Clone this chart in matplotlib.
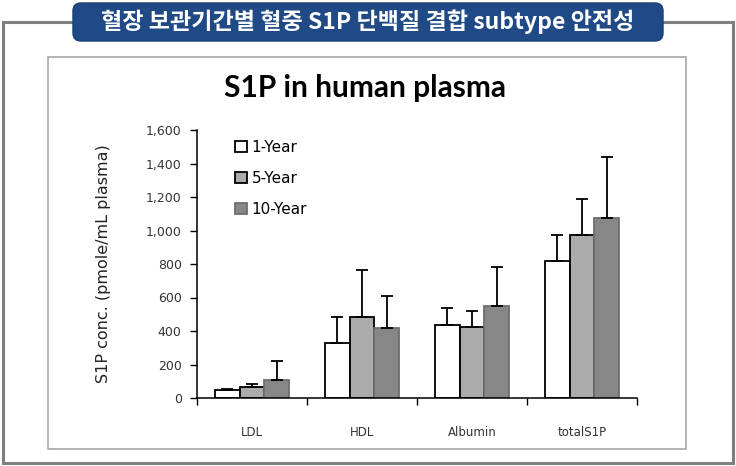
import matplotlib
matplotlib.use("Agg")
import matplotlib.pyplot as plt
import numpy as np
from matplotlib.patches import Rectangle, FancyBboxPatch
from matplotlib.transforms import Affine2D
from matplotlib.ticker import FuncFormatter

plt.rcParams['font.family'] = ['DejaVu Sans']

# 데이터
categories = ['LDL', 'HDL', 'Albumin', 'totalS1P']
series = ['1-Year', '5-Year', '10-Year']
mean_1y = [50, 330, 437, 815]
mean_5y = [65, 484, 421, 971]
mean_10y = [110, 420, 551, 1077]
err_1y = [6, 155, 100, 157]
err_5y = [21, 282, 96, 220]
err_10y = [110, 191, 234, 362]

W, H = 736, 466
fig = plt.figure(figsize=(W / 100, H / 100), dpi=100)

# 픽셀 좌표 (위에서 아래로) -> 디스플레이 좌표
px = Affine2D().scale(1, -1).translate(0, H)

# 바깥 테두리
fig.patches.append(Rectangle((3, 22), 730, 441, transform=px, fill=False,
                             edgecolor='#7f7f7f', linewidth=2.2))
# 제목 배너
fig.patches.append(FancyBboxPatch((81, 11), 574, 22, transform=px,
                                  boxstyle='round,pad=8,rounding_size=8',
                                  facecolor='#1f4a85', edgecolor='#1a3f73', linewidth=1))
fig.text(368 / W, 1 - 22 / H, '혈장 보관기간별 혈중 S1P 단백질 결합 subtype 안전성',
         family=['Noto Sans CJK KR', 'DejaVu Sans'], fontweight='bold',
         fontsize=16.6, color='white', ha='center', va='center')
# 안쪽 차트 박스
fig.patches.append(Rectangle((48, 57), 638, 392, transform=px, fill=False,
                             edgecolor='#a6a6a6', linewidth=1.2))

fig.text(365 / W, 1 - 88 / H, 'S1P in human plasma', family='Lato',
         fontweight='bold', fontsize=21.5, color='black', ha='center', va='center')

ax = fig.add_axes([197 / W, (H - 398) / H, (637 - 197) / W, (398 - 130) / H])

x = np.arange(len(categories))
w = 0.224
means = [mean_1y, mean_5y, mean_10y]
errs = [err_1y, err_5y, err_10y]
faces = ['white', '#ababab', '#878787']
edges = ['black', 'black', '#6e6e6e']
for i in range(3):
    ax.bar(x + (i - 1) * w, means[i], w, yerr=[np.zeros(4), errs[i]],
           color=faces[i], edgecolor=edges[i], linewidth=1.3, label=series[i],
           error_kw=dict(ecolor='black', elinewidth=1.3, capsize=4.5, capthick=1.3))

ax.set_xlim(-0.5, 3.5)
ax.set_ylim(0, 1600)
ax.set_yticks(np.arange(0, 1601, 200))
ax.yaxis.set_major_formatter(FuncFormatter(lambda v, p: f'{int(v):,}'))
ax.set_xticks(np.arange(-0.5, 3.6, 1))
ax.set_xticklabels([])
ax.set_xticks(x, minor=True)
ax.set_xticklabels(categories, minor=True)
ax.tick_params(axis='x', which='minor', length=0, pad=20, labelsize=8.5, labelcolor='#333333')
ax.tick_params(axis='x', which='major', length=5, direction='out', width=1)
ax.tick_params(axis='y', length=5, direction='out', width=1, labelsize=9,
               labelcolor='#333333', pad=6)
for s in ['top', 'right']:
    ax.spines[s].set_visible(False)
for s in ['left', 'bottom']:
    ax.spines[s].set_linewidth(1.1)

ax.set_ylabel('S1P conc. (pmole/mL plasma)', fontsize=11.5, color='#222222', labelpad=25)

ax.legend(loc='upper left', bbox_to_anchor=(0.055, 1.015), frameon=False, fontsize=11,
          handlelength=0.8, handleheight=0.8, labelspacing=1.05, handletextpad=0.3)

fig.savefig('out.png', dpi=100)
